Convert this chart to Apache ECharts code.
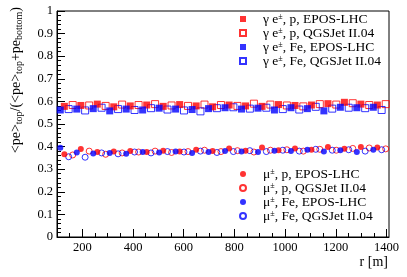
<!DOCTYPE html>
<html><head><meta charset="utf-8">
<script src="https://cdn.jsdelivr.net/npm/echarts@6/dist/echarts.min.js"></script>
<style>html,body{margin:0;padding:0;background:#fff}#c{width:407px;height:277px}</style>
</head><body><div id="c"></div>
<script>
// x tick labels and y tick labels
const xTickLabels = [200, 400, 600, 800, 1000, 1200, 1400];
const xMinorTicks = [100, 150, 250, 300, 350, 450, 500, 550, 650, 700, 750, 850, 900, 950, 1050, 1100, 1150, 1250, 1300, 1350];
const yTickLabels = [0, 0.1, 0.2, 0.3, 0.4, 0.5, 0.6, 0.7, 0.8, 0.9, 1];

// r positions [m] of each series' points
const rFeEpos = [113, 178, 243, 308, 373, 438, 503, 568, 633, 698, 763, 828, 893, 958, 1023, 1088, 1153, 1218, 1283, 1348];
const rPEpos  = [129, 194, 259, 324, 389, 454, 519, 584, 649, 714, 779, 844, 909, 974, 1039, 1104, 1169, 1234, 1299, 1364];
const rFeQgs  = [146, 211, 276, 341, 406, 471, 536, 601, 666, 731, 796, 861, 926, 991, 1056, 1121, 1186, 1251, 1316, 1381];
const rPQgs   = [162, 227, 292, 357, 422, 487, 552, 617, 682, 747, 812, 877, 942, 1007, 1072, 1137, 1202, 1267, 1332, 1397];

// gamma / e± ratio
const gammaPEpos  = [0.578, 0.582, 0.588, 0.576, 0.580, 0.584, 0.578, 0.586, 0.580, 0.576, 0.584, 0.580, 0.578, 0.586, 0.582, 0.584, 0.590, 0.596, 0.588, 0.584];
const gammaPQgs   = [0.584, 0.582, 0.580, 0.586, 0.584, 0.588, 0.582, 0.580, 0.586, 0.584, 0.580, 0.590, 0.586, 0.582, 0.578, 0.588, 0.586, 0.592, 0.584, 0.588];
const gammaFeEpos = [0.562, 0.566, 0.568, 0.558, 0.566, 0.562, 0.570, 0.566, 0.564, 0.568, 0.572, 0.566, 0.570, 0.562, 0.572, 0.568, 0.558, 0.574, 0.572, 0.574];
const gammaFeQgs  = [0.566, 0.560, 0.572, 0.566, 0.562, 0.570, 0.564, 0.560, 0.556, 0.570, 0.574, 0.568, 0.572, 0.566, 0.564, 0.576, 0.568, 0.572, 0.570, 0.562];

// muon ratio
const muPEpos  = [0.366, 0.389, 0.376, 0.378, 0.380, 0.376, 0.382, 0.378, 0.386, 0.380, 0.392, 0.382, 0.396, 0.384, 0.392, 0.386, 0.398, 0.390, 0.398, 0.396];
const muPQgs   = [0.363, 0.380, 0.366, 0.372, 0.376, 0.380, 0.374, 0.378, 0.384, 0.378, 0.382, 0.376, 0.384, 0.386, 0.380, 0.388, 0.384, 0.392, 0.394, 0.390];
const muFeEpos = [0.395, 0.374, 0.370, 0.372, 0.368, 0.376, 0.374, 0.378, 0.372, 0.376, 0.380, 0.378, 0.376, 0.382, 0.380, 0.386, 0.378, 0.384, 0.376, 0.386];
const muFeQgs  = [0.355, 0.353, 0.372, 0.368, 0.376, 0.372, 0.378, 0.376, 0.380, 0.374, 0.378, 0.382, 0.378, 0.384, 0.380, 0.388, 0.384, 0.386, 0.380, 0.386];

const gammaNames = ['γ e±, p, EPOS-LHC', 'γ e±, p, QGSJet II.04', 'γ e±, Fe, EPOS-LHC', 'γ e±, Fe, QGSJet II.04'];
const muNames = ['μ±, p, EPOS-LHC', 'μ±, p, QGSJet II.04', 'μ±, Fe, EPOS-LHC', 'μ±, Fe, QGSJet II.04'];

const RED = '#ff0000', BLUE = '#0000ff';
const SERIF = '"Liberation Serif", "DejaVu Serif", serif';

function zip(xs, ys) { return xs.map((x, i) => [x, ys[i]]); }

function mk(name, xs, ys, symbol, color, filled, size) {
  return {
    type: 'scatter', name: name, data: zip(xs, ys),
    symbol: symbol, symbolSize: size,
    itemStyle: filled ? { color: color } : { color: 'rgba(255,255,255,0)', borderColor: color, borderWidth: 1 },
    emphasis: { disabled: true }
  };
}

const series = [
  mk(gammaNames[1], rPQgs, gammaPQgs, 'rect', RED, false, 7),
  mk(gammaNames[3], rFeQgs, gammaFeQgs, 'rect', BLUE, false, 7),
  mk(gammaNames[0], rPEpos, gammaPEpos, 'rect', RED, true, 7),
  mk(gammaNames[2], rFeEpos, gammaFeEpos, 'rect', BLUE, true, 7),
  mk(muNames[1], rPQgs, muPQgs, 'circle', RED, false, 6),
  mk(muNames[3], rFeQgs, muFeQgs, 'circle', BLUE, false, 6),
  mk(muNames[0], rPEpos, muPEpos, 'circle', RED, true, 6),
  mk(muNames[2], rFeEpos, muFeEpos, 'circle', BLUE, true, 6)
];

const legendRich = {
  n: { fontFamily: SERIF, fontSize: 13.5, color: '#000', lineHeight: 12 },
  s: { fontFamily: SERIF, fontSize: 8, color: '#000', verticalAlign: 'top', lineHeight: 12, padding: [0, 0, 4, 0] }
};
function legendFmt(name) { return '{n|' + name.replace('±', '}{s|±}{n|') + '}'; }

function mkLegend(data, top) {
  return {
    data: data, orient: 'vertical', left: 234, top: top,
    itemWidth: 6, itemHeight: 6, itemGap: 0, selectedMode: false,
    formatter: legendFmt,
    textStyle: { rich: legendRich, padding: [0, 0, 0, 12] }
  };
}

const chart = echarts.init(document.getElementById('c'), null, { renderer: 'canvas' });
chart.setOption({
  animation: false,
  backgroundColor: '#fff',
  grid: { left: 57, right: 18, top: 11, bottom: 40, show: true, borderColor: '#000', borderWidth: 1, backgroundColor: 'rgba(0,0,0,0)' },
  legend: [mkLegend(gammaNames, 7), mkLegend(muNames, 162)],
  xAxis: [{
    type: 'value', min: 100, max: 1410,
    axisLine: { lineStyle: { color: '#000', width: 1 } },
    splitLine: { show: false },
    axisTick: { inside: true, length: 8, customValues: xTickLabels, lineStyle: { color: '#000' } },
    axisLabel: { customValues: xTickLabels, formatter: v => String(v), fontFamily: SERIF, fontSize: 12.5, color: '#000', margin: 4 }
  }, {
    type: 'value', min: 100, max: 1410, position: 'bottom',
    axisLine: { show: false }, splitLine: { show: false },
    axisTick: { inside: true, length: 4, customValues: xMinorTicks, lineStyle: { color: '#000' } },
    axisLabel: { show: false }
  }],
  yAxis: {
    type: 'value', min: 0, max: 1, interval: 0.1,
    axisLine: { show: true, lineStyle: { color: '#000', width: 1 } },
    splitLine: { show: false },
    axisTick: { show: true, inside: true, length: 8, lineStyle: { color: '#000' } },
    minorTick: { show: true, splitNumber: 5, length: 4, lineStyle: { color: '#000' } },
    axisLabel: { fontFamily: SERIF, fontSize: 12.5, color: '#000', margin: 4 }
  },
  series: series,
  graphic: [
    {
      type: 'text', x: 16, y: 7, rotation: Math.PI / 2,
      style: {
        text: '{n|<pe>}{s|top}{n|/(<pe>}{s|top}{n|+pe}{s|bottom}{n|)}',
        align: 'right', verticalAlign: 'middle',
        rich: {
          n: { fontFamily: SERIF, fontSize: 14, fill: '#000', lineHeight: 16 },
          s: { fontFamily: SERIF, fontSize: 10, fill: '#000', verticalAlign: 'bottom', lineHeight: 16, padding: [5, 0, 0, 0] }
        }
      }
    },
    {
      type: 'text', right: 19, top: 255,
      style: { text: 'r [m]', fontFamily: SERIF, fontSize: 14, fill: '#000' }
    }
  ]
});
</script></body></html>
